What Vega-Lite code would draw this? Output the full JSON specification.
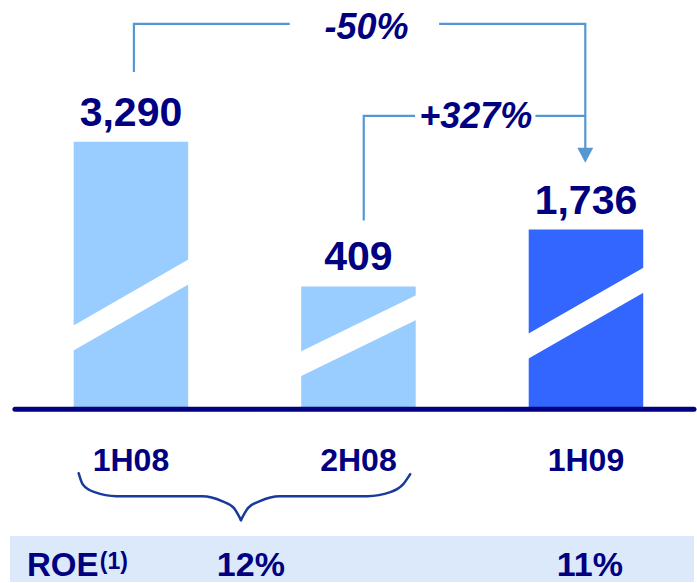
{
  "$schema": "https://vega.github.io/schema/vega-lite/v6.json",
  "autosize": {"type": "fit", "contains": "padding"},
  "width": 697,
  "height": 583,
  "padding": 0,
  "background": "white",
  "config": {"view": {"stroke": null}},
  "datasets": {
    "bars": [
      {"period": "1H08", "value": 3290, "series": "2008"},
      {"period": "2H08", "value": 409, "series": "2008"},
      {"period": "1H09", "value": 1736, "series": "2009"}
    ],
    "stripes": [
      {"bar": "1H08", "x": -0.258, "top": 83.2, "bottom": 58.2},
      {"bar": "1H08", "x": 0.258, "top": 150.8, "bottom": 125.8},
      {"bar": "2H08", "x": 0.742, "top": 57.3, "bottom": 32.6},
      {"bar": "2H08", "x": 1.258, "top": 114.7, "bottom": 90.0},
      {"bar": "1H09", "x": 1.742, "top": 75.2, "bottom": 50.2},
      {"bar": "1H09", "x": 2.258, "top": 142.5, "bottom": 117.5}
    ],
    "links": [
      {"seg": "a", "ord": 1, "x": 0.0131, "h": 338},
      {"seg": "a", "ord": 2, "x": 0.0131, "h": 386},
      {"seg": "a", "ord": 3, "x": 0.698, "h": 386},
      {"seg": "b", "ord": 1, "x": 1.3545, "h": 386},
      {"seg": "b", "ord": 2, "x": 1.997, "h": 386},
      {"seg": "b", "ord": 3, "x": 1.997, "h": 258},
      {"seg": "c", "ord": 1, "x": 1.0232, "h": 189},
      {"seg": "c", "ord": 2, "x": 1.0232, "h": 294},
      {"seg": "c", "ord": 3, "x": 1.249, "h": 294},
      {"seg": "d", "ord": 1, "x": 1.778, "h": 294},
      {"seg": "d", "ord": 2, "x": 1.997, "h": 294}
    ],
    "arrow": [
      {"x": 1.962, "top": 262, "bottom": 262},
      {"x": 1.997, "top": 262, "bottom": 247},
      {"x": 2.032, "top": 262, "bottom": 262}
    ],
    "brace": [
      {"half": "L", "x": -0.2298, "h": -64},
      {"half": "L", "x": -0.2123, "h": -75},
      {"half": "L", "x": -0.1597, "h": -83},
      {"half": "L", "x": -0.0635, "h": -87},
      {"half": "L", "x": 0.3129, "h": -87},
      {"half": "L", "x": 0.4004, "h": -92},
      {"half": "L", "x": 0.4530, "h": -99},
      {"half": "L", "x": 0.4836, "h": -111},
      {"half": "R", "x": 0.4836, "h": -111},
      {"half": "R", "x": 0.5142, "h": -99},
      {"half": "R", "x": 0.5667, "h": -92},
      {"half": "R", "x": 0.6543, "h": -87},
      {"half": "R", "x": 1.0394, "h": -87},
      {"half": "R", "x": 1.1400, "h": -83},
      {"half": "R", "x": 1.1969, "h": -75},
      {"half": "R", "x": 1.2276, "h": -65}
    ],
    "changes": [
      {"label": "-50%", "x": 1.035, "h": 371},
      {"label": "+327%", "x": 1.5155, "h": 282}
    ],
    "roe": [
      {"period": "2008", "x": 0.527, "roe": 0.12},
      {"period": "1H09", "x": 2.017, "roe": 0.11}
    ]
  },
  "layer": [
    {
      "data": {"name": "bars"},
      "encoding": {
        "x": {
          "field": "period",
          "type": "nominal",
          "sort": ["1H08", "2H08", "1H09"],
          "axis": null,
          "scale": {"paddingInner": 0.4967, "paddingOuter": 0.2735, "align": 0.592, "round": false}
        }
      },
      "layer": [
        {
          "mark": {"type": "bar"},
          "encoding": {
            "y": {
              "field": "value",
              "type": "quantitative",
              "axis": null,
              "scale": {"type": "pow", "exponent": 1.31, "domain": [-5248, 5404], "nice": false, "zero": false}
            },
            "y2": {"datum": -2582},
            "color": {
              "field": "series",
              "type": "nominal",
              "legend": null,
              "scale": {"domain": ["2008", "2009"], "range": ["#99ccff", "#3366ff"]}
            }
          }
        },
        {
          "mark": {"type": "text", "dy": -16, "baseline": "alphabetic", "align": "center", "font": "Liberation Sans", "fontSize": 41, "fontWeight": "bold", "color": "#000080"},
          "encoding": {
            "y": {"field": "value", "type": "quantitative", "axis": null, "scale": {"type": "pow", "exponent": 1.31, "domain": [-5248, 5404], "nice": false, "zero": false}},
            "text": {"field": "value", "type": "quantitative", "format": ",d"}
          }
        },
        {
          "mark": {"type": "text", "dy": 62, "baseline": "alphabetic", "align": "center", "font": "Liberation Sans", "fontSize": 32, "fontWeight": "bold", "color": "#000080"},
          "encoding": {
            "y": {"datum": -2582, "type": "quantitative", "axis": null, "scale": {"type": "pow", "exponent": 1.31, "domain": [-5248, 5404], "nice": false, "zero": false}},
            "text": {"field": "period", "type": "nominal"}
          }
        }
      ]
    },
    {
      "layer": [
        {
          "data": {"name": "stripes"},
          "mark": {"type": "area", "color": "white", "opacity": 1},
          "encoding": {
            "x": {"field": "x", "type": "quantitative", "axis": null, "scale": {"domain": [-0.5755, 2.4748], "nice": false, "zero": false}},
            "y": {"field": "top", "type": "quantitative", "axis": null, "scale": {"domain": [-173, 410], "nice": false, "zero": false}},
            "y2": {"field": "bottom"},
            "detail": {"field": "bar", "type": "nominal"}
          }
        },
        {
          "data": {"name": "links"},
          "mark": {"type": "line", "color": "#5597d3", "strokeWidth": 2.2, "strokeJoin": "miter", "strokeCap": "butt"},
          "encoding": {
            "x": {"field": "x", "type": "quantitative", "axis": null, "scale": {"domain": [-0.5755, 2.4748], "nice": false, "zero": false}},
            "y": {"field": "h", "type": "quantitative", "axis": null, "scale": {"domain": [-173, 410], "nice": false, "zero": false}},
            "detail": {"field": "seg", "type": "nominal"},
            "order": {"field": "ord", "type": "quantitative"}
          }
        },
        {
          "data": {"name": "arrow"},
          "mark": {"type": "area", "color": "#5597d3", "opacity": 1},
          "encoding": {
            "x": {"field": "x", "type": "quantitative", "axis": null, "scale": {"domain": [-0.5755, 2.4748], "nice": false, "zero": false}},
            "y": {"field": "top", "type": "quantitative", "axis": null, "scale": {"domain": [-173, 410], "nice": false, "zero": false}},
            "y2": {"field": "bottom"}
          }
        },
        {
          "data": {"name": "changes"},
          "mark": {"type": "text", "baseline": "alphabetic", "align": "center", "font": "Liberation Sans", "fontSize": 36, "fontWeight": "bold", "fontStyle": "italic", "color": "#000080"},
          "encoding": {
            "x": {"field": "x", "type": "quantitative", "axis": null, "scale": {"domain": [-0.5755, 2.4748], "nice": false, "zero": false}},
            "y": {"field": "h", "type": "quantitative", "axis": null, "scale": {"domain": [-173, 410], "nice": false, "zero": false}},
            "text": {"field": "label", "type": "nominal"}
          }
        },
        {
          "data": {"values": [{}]},
          "mark": {"type": "rule", "color": "#000080", "strokeWidth": 5, "strokeCap": "round"},
          "encoding": {
            "x": {"datum": -0.5098, "type": "quantitative", "axis": null, "scale": {"domain": [-0.5755, 2.4748], "nice": false, "zero": false}},
            "x2": {"datum": 2.4748},
            "y": {"datum": 0, "type": "quantitative", "axis": null, "scale": {"domain": [-173, 410], "nice": false, "zero": false}}
          }
        },
        {
          "data": {"name": "brace"},
          "mark": {"type": "line", "color": "#173b9c", "strokeWidth": 2.5, "interpolate": "monotone", "strokeCap": "round"},
          "encoding": {
            "x": {"field": "x", "type": "quantitative", "axis": null, "scale": {"domain": [-0.5755, 2.4748], "nice": false, "zero": false}},
            "y": {"field": "h", "type": "quantitative", "axis": null, "scale": {"domain": [-173, 410], "nice": false, "zero": false}},
            "detail": {"field": "half", "type": "nominal"}
          }
        },
        {
          "data": {"values": [{}]},
          "mark": {"type": "rect", "color": "#dce9fb", "opacity": 1},
          "encoding": {
            "x": {"datum": -0.5317, "type": "quantitative", "axis": null, "scale": {"domain": [-0.5755, 2.4748], "nice": false, "zero": false}},
            "x2": {"datum": 2.4748},
            "y": {"datum": -127, "type": "quantitative", "axis": null, "scale": {"domain": [-173, 410], "nice": false, "zero": false}},
            "y2": {"datum": -173}
          }
        },
        {
          "data": {"values": [{"t": "ROE"}]},
          "mark": {"type": "text", "baseline": "alphabetic", "align": "left", "font": "Liberation Sans", "fontSize": 33, "fontWeight": "bold", "color": "#000080"},
          "encoding": {
            "x": {"datum": -0.4573, "type": "quantitative", "axis": null, "scale": {"domain": [-0.5755, 2.4748], "nice": false, "zero": false}},
            "y": {"datum": -167, "type": "quantitative", "axis": null, "scale": {"domain": [-173, 410], "nice": false, "zero": false}},
            "text": {"field": "t", "type": "nominal"}
          }
        },
        {
          "data": {"values": [{"t": "(1)"}]},
          "mark": {"type": "text", "baseline": "alphabetic", "align": "left", "font": "Liberation Sans", "fontSize": 23, "fontWeight": "bold", "color": "#000080"},
          "encoding": {
            "x": {"datum": -0.137, "type": "quantitative", "axis": null, "scale": {"domain": [-0.5755, 2.4748], "nice": false, "zero": false}},
            "y": {"datum": -160, "type": "quantitative", "axis": null, "scale": {"domain": [-173, 410], "nice": false, "zero": false}},
            "text": {"field": "t", "type": "nominal"}
          }
        },
        {
          "data": {"name": "roe"},
          "mark": {"type": "text", "baseline": "alphabetic", "align": "center", "font": "Liberation Sans", "fontSize": 34, "fontWeight": "bold", "color": "#000080"},
          "encoding": {
            "x": {"field": "x", "type": "quantitative", "axis": null, "scale": {"domain": [-0.5755, 2.4748], "nice": false, "zero": false}},
            "y": {"datum": -167, "type": "quantitative", "axis": null, "scale": {"domain": [-173, 410], "nice": false, "zero": false}},
            "text": {"field": "roe", "type": "quantitative", "format": ".0%"}
          }
        }
      ]
    }
  ],
  "resolve": {"scale": {"x": "independent", "y": "independent"}}
}
